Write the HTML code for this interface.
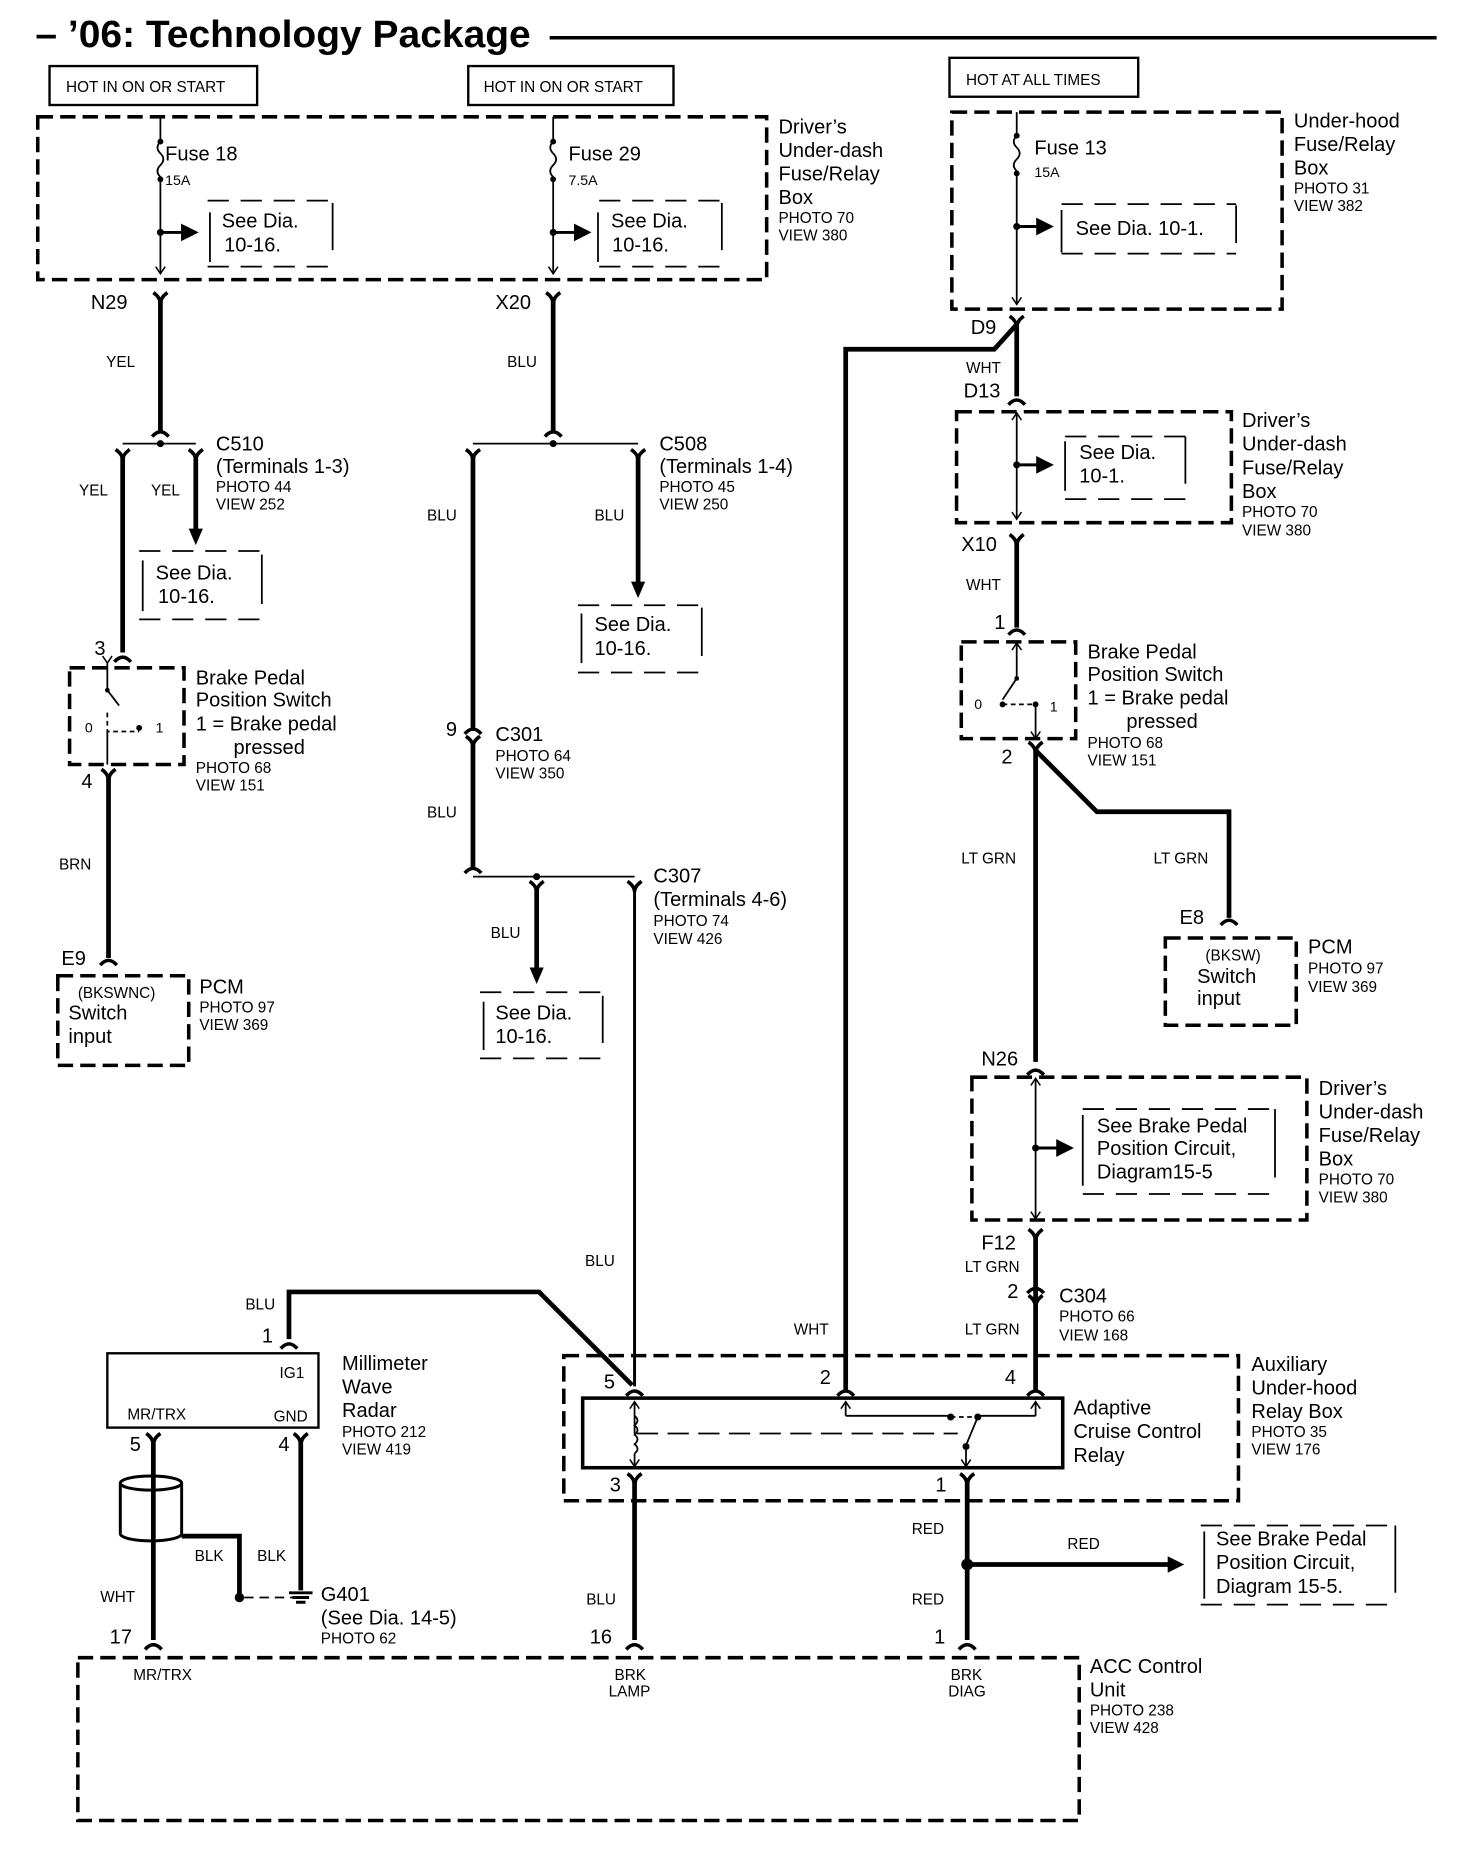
<!DOCTYPE html>
<html><head><meta charset="utf-8"><style>
html,body{margin:0;padding:0;background:#fff}
svg{display:block}
text{font-family:"Liberation Sans",Arial,sans-serif;fill:#000}
.l{font-size:17px}.s{font-size:13px}.xs{font-size:12px}
.tw{stroke:#000;stroke-width:4;fill:none}
.th{stroke:#000;stroke-width:1.5;fill:none}
.db{stroke:#000;stroke-width:3;fill:none;stroke-dasharray:13 6}
.ds{stroke:#000;stroke-width:1.5;fill:none;stroke-dasharray:18 10}
.cp{stroke:#000;stroke-width:3;fill:none}
</style></head><body>
<svg width="1472" height="1850" viewBox="0 0 1248 1568" preserveAspectRatio="none" xmlns="http://www.w3.org/2000/svg">
<defs>
<marker id="ah" markerWidth="6" markerHeight="6" refX="5" refY="3" orient="auto" markerUnits="strokeWidth"><path d="M0,0 L6,3 L0,6 z" fill="#000"/></marker>
<marker id="as" markerWidth="10" markerHeight="10" refX="9" refY="5" orient="auto" markerUnits="userSpaceOnUse"><path d="M3,1 L9,5 L3,9" stroke="#000" stroke-width="1.3" fill="none"/></marker>
</defs>
<!-- title -->
<text x="30" y="40" textLength="420" lengthAdjust="spacingAndGlyphs" style="font-size:32px;font-weight:bold">– ’06: Technology Package</text>
<line x1="466" y1="32" x2="1218" y2="32" stroke="#000" stroke-width="3"/>
<!-- hot boxes -->
<rect x="42" y="56" width="176" height="33" stroke="#000" stroke-width="2" fill="none"/>
<text x="56" y="78" class="s">HOT IN ON OR START</text>
<rect x="397" y="56" width="174" height="33" stroke="#000" stroke-width="2" fill="none"/>
<text x="410" y="78" class="s">HOT IN ON OR START</text>
<rect x="805" y="49" width="160" height="33" stroke="#000" stroke-width="2" fill="none"/>
<text x="819" y="72" class="s">HOT AT ALL TIMES</text>

<!-- box 1 -->
<rect x="32" y="99" width="618" height="138" class="db"/>
<text x="660" y="113" class="l">Driver’s</text><text x="660" y="133" class="l">Under-dash</text><text x="660" y="153" class="l">Fuse/Relay</text><text x="660" y="173" class="l">Box</text>
<text x="660" y="189" class="s">PHOTO 70</text><text x="660" y="204" class="s">VIEW 380</text>
<!-- fuse 18 -->
<path d="M136,99 V120 q-5,5 0,10 q5,5 0,10 q-5,5 0,10 V232" class="th" marker-end="url(#as)"/>
<circle cx="136" cy="120" r="2.5"/><circle cx="136" cy="152" r="2.5"/><circle cx="136" cy="197" r="3"/>
<line x1="136" y1="197" x2="166" y2="197" stroke="#000" stroke-width="2.5" marker-end="url(#ah)"/>
<text x="140" y="136" class="l">Fuse 18</text><text x="140" y="157" class="xs">15A</text>
<line x1="178" y1="180" x2="178" y2="222" class="th"/><line x1="282" y1="172" x2="282" y2="212" class="th"/>
<path d="M176,170 H282 M176,226 H282" class="ds"/>
<text x="188" y="193" class="l">See Dia.</text><text x="190" y="213" class="l">10-16.</text>
<!-- fuse 29 -->
<path d="M469,99 V120 q-5,5 0,10 q5,5 0,10 q-5,5 0,10 V232" class="th" marker-end="url(#as)"/>
<circle cx="469" cy="120" r="2.5"/><circle cx="469" cy="152" r="2.5"/><circle cx="469" cy="197" r="3"/>
<line x1="469" y1="197" x2="499" y2="197" stroke="#000" stroke-width="2.5" marker-end="url(#ah)"/>
<text x="482" y="136" class="l">Fuse 29</text><text x="482" y="157" class="xs">7.5A</text>
<line x1="507" y1="180" x2="507" y2="222" class="th"/><line x1="612" y1="172" x2="612" y2="212" class="th"/>
<path d="M508,170 H612 M508,226 H612" class="ds"/>
<text x="518" y="193" class="l">See Dia.</text><text x="519" y="213" class="l">10-16.</text>

<!-- box 2 -->
<rect x="807" y="95" width="280" height="167" class="db"/>
<text x="1097" y="108" class="l">Under-hood</text><text x="1097" y="128" class="l">Fuse/Relay</text><text x="1097" y="148" class="l">Box</text>
<text x="1097" y="164" class="s">PHOTO 31</text><text x="1097" y="179" class="s">VIEW 382</text>
<path d="M862,95 V115 q-5,5 0,10 q5,5 0,10 q-5,5 0,10 V258" class="th" marker-end="url(#as)"/>
<circle cx="862" cy="115" r="2.5"/><circle cx="862" cy="147" r="2.5"/><circle cx="862" cy="192" r="3"/>
<line x1="862" y1="192" x2="891" y2="192" stroke="#000" stroke-width="2.5" marker-end="url(#ah)"/>
<text x="877" y="131" class="l">Fuse 13</text><text x="877" y="150" class="xs">15A</text>
<line x1="900" y1="178" x2="900" y2="214" class="th"/><line x1="1048" y1="174" x2="1048" y2="206" class="th"/>
<path d="M900,173 H1048 M900,215 H1048" class="ds"/>
<text x="912" y="199" class="l">See Dia. 10-1.</text>

<!-- N29 / YEL -->
<text x="77" y="262" class="l">N29</text>
<path d="M130,248 Q136,252 136,258 Q136,252 142,248" class="cp"/>
<line x1="136" y1="252" x2="136" y2="366" class="tw"/>
<path d="M129,370 Q136,362 143,370" class="cp"/>
<text x="90" y="311" class="s">YEL</text>
<text x="420" y="262" class="l">X20</text>
<path d="M463,248 Q469,252 469,258 Q469,252 475,248" class="cp"/>
<line x1="469" y1="252" x2="469" y2="366" class="tw"/>
<path d="M462,370 Q469,362 476,370" class="cp"/>
<text x="430" y="311" class="s">BLU</text>

<!-- C510 -->
<line x1="104" y1="376" x2="166" y2="376" class="th"/><circle cx="136" cy="376" r="3"/>
<path d="M98,381 Q104,385 104,390 Q104,385 110,381 M160,381 Q166,385 166,390 Q166,385 172,381" class="cp"/>
<text x="183" y="382" class="l">C510</text><text x="183" y="401" class="l">(Terminals 1-3)</text>
<text x="183" y="417" class="s">PHOTO 44</text><text x="183" y="432" class="s">VIEW 252</text>
<line x1="104" y1="385" x2="104" y2="553" class="tw"/>
<line x1="166" y1="385" x2="166" y2="452" class="tw"/><path d="M160,448 L166,462 L172,448 z"/>
<text x="67" y="420" class="s">YEL</text><text x="128" y="420" class="s">YEL</text>
<line x1="121" y1="475" x2="121" y2="518" class="th"/><line x1="222" y1="470" x2="222" y2="512" class="th"/>
<path d="M118,467 H222 M118,525 H222" class="ds"/>
<text x="132" y="491" class="l">See Dia.</text><text x="134" y="511" class="l">10-16.</text>
<!-- switch left -->
<text x="80" y="555" class="l">3</text>
<path d="M97,561 Q104,553 111,561" class="cp"/>
<rect x="59" y="566" width="97" height="82" class="db"/>
<path d="M91,562 V585" class="th" marker-start="url(#as)"/>
<path d="M91,585 L101,598" class="th"/><circle cx="91" cy="585" r="2"/>
<path d="M91,604 V620 H118" class="th" stroke-dasharray="4 3"/><circle cx="118" cy="617" r="2.5"/>
<line x1="91" y1="620" x2="91" y2="648" class="th"/>
<text x="72" y="621" class="xs">0</text><text x="132" y="621" class="xs">1</text>
<text x="166" y="580" class="l">Brake Pedal</text><text x="166" y="599" class="l">Position Switch</text>
<text x="166" y="619" class="l">1 = Brake pedal</text><text x="198" y="639" class="l">pressed</text>
<text x="166" y="655" class="s">PHOTO 68</text><text x="166" y="670" class="s">VIEW 151</text>
<text x="69" y="668" class="l">4</text>
<path d="M86,652 Q92,656 92,662 Q92,656 98,652" class="cp"/>
<line x1="92" y1="656" x2="92" y2="812" class="tw"/>
<path d="M85,818 Q92,810 99,818" class="cp"/>
<text x="50" y="737" class="s">BRN</text>
<text x="52" y="818" class="l">E9</text>
<rect x="49" y="827" width="111" height="76" class="db"/>
<text x="66" y="846" class="s">(BKSWNC)</text><text x="58" y="864" class="l">Switch</text><text x="58" y="884" class="l">input</text>
<text x="169" y="842" class="l">PCM</text><text x="169" y="858" class="s">PHOTO 97</text><text x="169" y="873" class="s">VIEW 369</text>

<!-- C508 -->
<line x1="401" y1="376" x2="541" y2="376" class="th"/><circle cx="469" cy="376" r="3"/>
<path d="M395,381 Q401,385 401,390 Q401,385 407,381 M535,381 Q541,385 541,390 Q541,385 547,381" class="cp"/>
<text x="559" y="382" class="l">C508</text><text x="559" y="401" class="l">(Terminals 1-4)</text>
<text x="559" y="417" class="s">PHOTO 45</text><text x="559" y="432" class="s">VIEW 250</text>
<line x1="401" y1="385" x2="401" y2="617" class="tw"/>
<line x1="541" y1="385" x2="541" y2="497" class="tw"/><path d="M535,493 L541,507 L547,493 z"/>
<text x="362" y="441" class="s">BLU</text><text x="504" y="441" class="s">BLU</text>
<line x1="493" y1="520" x2="493" y2="562" class="th"/><line x1="595" y1="515" x2="595" y2="556" class="th"/>
<path d="M490,513 H595 M490,570 H595" class="ds"/>
<text x="504" y="535" class="l">See Dia.</text><text x="504" y="555" class="l">10-16.</text>
<text x="378" y="624" class="l">9</text>
<path d="M394,622 Q401,614 408,622 M395,624 Q401,628 401,633 Q401,628 407,624" class="cp"/>
<text x="420" y="628" class="l">C301</text><text x="420" y="645" class="s">PHOTO 64</text><text x="420" y="660" class="s">VIEW 350</text>
<line x1="401" y1="628" x2="401" y2="735" class="tw"/>
<path d="M394,740 Q401,732 408,740" class="cp"/>
<text x="362" y="693" class="s">BLU</text>
<line x1="401" y1="743" x2="538" y2="743" class="th"/><circle cx="455" cy="743" r="3"/>
<path d="M449,747 Q455,751 455,756 Q455,751 461,747 M532,747 Q538,751 538,756 Q538,751 544,747" class="cp"/>
<text x="554" y="748" class="l">C307</text><text x="554" y="768" class="l">(Terminals 4-6)</text>
<text x="554" y="785" class="s">PHOTO 74</text><text x="554" y="800" class="s">VIEW 426</text>
<line x1="455" y1="752" x2="455" y2="824" class="tw"/><path d="M449,820 L455,834 L461,820 z"/>
<text x="416" y="795" class="s">BLU</text>
<line x1="410" y1="849" x2="410" y2="890" class="th"/><line x1="511" y1="844" x2="511" y2="884" class="th"/>
<path d="M407,841 H511 M407,897 H511" class="ds"/>
<text x="420" y="864" class="l">See Dia.</text><text x="420" y="884" class="l">10-16.</text>
<line x1="538" y1="752" x2="538" y2="1175" stroke="#000" stroke-width="2.5"/>
<text x="496" y="1073" class="s">BLU</text>

<!-- right column -->
<text x="823" y="283" class="l">D9</text>
<path d="M856,268 Q862,272 862,278 Q862,272 868,268" class="cp"/>
<path d="M862,275 L843,296 H717 V1178" class="tw"/>
<line x1="862" y1="275" x2="862" y2="336" class="tw"/>
<text x="819" y="316" class="s">WHT</text>
<text x="817" y="337" class="l">D13</text>
<path d="M855,343 Q862,335 869,343" class="cp"/>
<rect x="811" y="349" width="233" height="94" class="db"/>
<path d="M862,394 V350" class="th" marker-end="url(#as)"/><path d="M862,394 V440" class="th" marker-end="url(#as)"/>
<circle cx="862" cy="394" r="3"/><line x1="862" y1="394" x2="891" y2="394" stroke="#000" stroke-width="2.5" marker-end="url(#ah)"/>
<line x1="903" y1="374" x2="903" y2="416" class="th"/><line x1="1005" y1="370" x2="1005" y2="410" class="th"/>
<path d="M903,370 H1005 M903,423 H1005" class="ds"/>
<text x="915" y="389" class="l">See Dia.</text><text x="915" y="409" class="l">10-1.</text>
<text x="1053" y="362" class="l">Driver’s</text><text x="1053" y="382" class="l">Under-dash</text><text x="1053" y="402" class="l">Fuse/Relay</text><text x="1053" y="422" class="l">Box</text>
<text x="1053" y="438" class="s">PHOTO 70</text><text x="1053" y="454" class="s">VIEW 380</text>
<text x="815" y="467" class="l">X10</text>
<path d="M856,453 Q862,457 862,463 Q862,457 868,453" class="cp"/>
<line x1="862" y1="457" x2="862" y2="532" class="tw"/>
<path d="M855,538 Q862,530 869,538" class="cp"/>
<text x="819" y="500" class="s">WHT</text>
<text x="843" y="533" class="l">1</text>
<rect x="815" y="544" width="97" height="82" class="db"/>
<path d="M862,575 V545" class="th" marker-end="url(#as)"/>
<path d="M862,575 L850,593" class="th"/><circle cx="862" cy="575" r="2"/>
<path d="M850,597 H878" class="th" stroke-dasharray="4 3"/><circle cx="850" cy="597" r="2.5"/><circle cx="878" cy="597" r="2.5"/>
<path d="M878,597 V626" class="th" marker-end="url(#as)"/>
<text x="826" y="601" class="xs">0</text><text x="890" y="603" class="xs">1</text>
<text x="922" y="558" class="l">Brake Pedal</text><text x="922" y="577" class="l">Position Switch</text>
<text x="922" y="597" class="l">1 = Brake pedal</text><text x="955" y="617" class="l">pressed</text>
<text x="922" y="634" class="s">PHOTO 68</text><text x="922" y="649" class="s">VIEW 151</text>
<text x="849" y="647" class="l">2</text>
<path d="M872,629 Q878,633 878,639 Q878,633 884,629" class="cp"/>
<line x1="878" y1="634" x2="878" y2="900" class="tw"/>
<path d="M878,636 L930,688 H1042 V778" class="tw"/>
<path d="M1035,784 Q1042,776 1049,784" class="cp"/>
<text x="815" y="732" class="s">LT GRN</text><text x="978" y="732" class="s">LT GRN</text>
<text x="1000" y="783" class="l">E8</text>
<rect x="988" y="795" width="111" height="74" class="db"/>
<text x="1022" y="814" class="s">(BKSW)</text><text x="1015" y="833" class="l">Switch</text><text x="1015" y="852" class="l">input</text>
<text x="1109" y="808" class="l">PCM</text><text x="1109" y="825" class="s">PHOTO 97</text><text x="1109" y="841" class="s">VIEW 369</text>
<text x="832" y="903" class="l">N26</text>
<path d="M871,911 Q878,903 885,911" class="cp"/>
<rect x="824" y="913" width="284" height="121" class="db"/>
<path d="M878,973 V914" class="th" marker-end="url(#as)"/><path d="M878,973 V1033" class="th" marker-end="url(#as)"/>
<circle cx="878" cy="973" r="3"/><line x1="878" y1="973" x2="908" y2="973" stroke="#000" stroke-width="2.5" marker-end="url(#ah)"/>
<line x1="918" y1="945" x2="918" y2="1005" class="th"/><line x1="1081" y1="940" x2="1081" y2="998" class="th"/>
<path d="M918,940 H1081 M918,1012 H1081" class="ds"/>
<text x="930" y="960" class="l">See Brake Pedal</text><text x="930" y="979" class="l">Position  Circuit,</text><text x="930" y="999" class="l">Diagram15-5</text>
<text x="1118" y="928" class="l">Driver’s</text><text x="1118" y="948" class="l">Under-dash</text><text x="1118" y="968" class="l">Fuse/Relay</text><text x="1118" y="988" class="l">Box</text>
<text x="1118" y="1004" class="s">PHOTO 70</text><text x="1118" y="1019" class="s">VIEW 380</text>
<text x="832" y="1059" class="l">F12</text>
<path d="M872,1042 Q878,1046 878,1052 Q878,1046 884,1042" class="cp"/>
<line x1="878" y1="1046" x2="878" y2="1178" class="tw"/>
<text x="818" y="1078" class="s">LT GRN</text>
<text x="854" y="1100" class="l">2</text>
<path d="M871,1096 Q878,1088 885,1096 M872,1098 Q878,1102 878,1108 Q878,1102 884,1098" class="cp"/>
<text x="898" y="1104" class="l">C304</text><text x="898" y="1120" class="s">PHOTO 66</text><text x="898" y="1136" class="s">VIEW 168</text>
<text x="818" y="1131" class="s">LT GRN</text>
<text x="673" y="1131" class="s">WHT</text>

<!-- aux relay box -->
<rect x="478" y="1149" width="572" height="123" class="db"/>
<rect x="494" y="1185" width="407" height="59" stroke="#000" stroke-width="3" fill="none"/>
<text x="512" y="1177" class="l">5</text><text x="695" y="1173" class="l">2</text><text x="852" y="1173" class="l">4</text>
<path d="M531,1183 Q538,1175 545,1183 M710,1183 Q717,1175 724,1183 M871,1183 Q878,1175 885,1183" class="cp"/>
<path d="M538,1215 V1188" class="th" marker-end="url(#as)"/>
<path d="M538,1200 q5,4 0,8 q5,4 0,8 q5,4 0,8 q5,4 0,8" class="th"/>
<path d="M538,1232 V1243" class="th" marker-end="url(#as)"/>
<line x1="540" y1="1215" x2="812" y2="1215" class="th" stroke-dasharray="18 8"/>
<path d="M717,1200 V1188" class="th" marker-end="url(#as)"/><path d="M717,1200 H805" class="th"/><circle cx="806" cy="1201" r="3"/>
<path d="M806,1201 H826" class="th" stroke-dasharray="4 3"/>
<path d="M878,1200 V1188" class="th" marker-end="url(#as)"/><path d="M878,1200 H830" class="th"/><circle cx="829" cy="1201" r="3"/>
<path d="M829,1201 L819,1225" class="th"/><circle cx="819" cy="1226" r="3"/>
<path d="M819,1226 V1243" class="th" marker-end="url(#as)"/>
<text x="517" y="1264" class="l">3</text><text x="793" y="1264" class="l">1</text>
<path d="M532,1249 Q538,1253 538,1259 Q538,1253 544,1249 M814,1249 Q820,1253 820,1259 Q820,1253 826,1249" class="cp"/>
<text x="910" y="1199" class="l">Adaptive</text><text x="910" y="1219" class="l">Cruise Control</text><text x="910" y="1239" class="l">Relay</text>
<text x="1061" y="1162" class="l">Auxiliary</text><text x="1061" y="1182" class="l">Under-hood</text><text x="1061" y="1202" class="l">Relay Box</text>
<text x="1061" y="1218" class="s">PHOTO 35</text><text x="1061" y="1233" class="s">VIEW 176</text>

<!-- BLU to pin 5 -->
<path d="M245,1135 V1095 H457 L536,1174" class="tw"/>
<text x="208" y="1110" class="s">BLU</text>

<!-- radar -->
<text x="222" y="1138" class="l">1</text>
<path d="M238,1143 Q245,1135 252,1143" class="cp"/>
<rect x="91" y="1147" width="179" height="63" stroke="#000" stroke-width="2" fill="none"/>
<text x="237" y="1168" class="s">IG1</text><text x="108" y="1203" class="s">MR/TRX</text><text x="232" y="1205" class="s">GND</text>
<text x="290" y="1161" class="l">Millimeter</text><text x="290" y="1181" class="l">Wave</text><text x="290" y="1201" class="l">Radar</text>
<text x="290" y="1218" class="s">PHOTO 212</text><text x="290" y="1233" class="s">VIEW 419</text>
<text x="110" y="1230" class="l">5</text><text x="236" y="1230" class="l">4</text>
<path d="M124,1215 Q130,1219 130,1225 Q130,1219 136,1215 M249,1215 Q255,1219 255,1225 Q255,1219 261,1215" class="cp"/>
<line x1="130" y1="1219" x2="130" y2="1390" class="tw"/>
<ellipse cx="128" cy="1257" rx="26" ry="6" stroke="#000" stroke-width="2.5" fill="none"/>
<path d="M102,1257 V1300 M154,1257 V1300" stroke="#000" stroke-width="2.5"/>
<path d="M102,1300 A26,6 0 0 0 154,1300" stroke="#000" stroke-width="2.5" fill="none"/>
<path d="M154,1302 H203 V1354" class="tw"/><circle cx="203" cy="1354" r="4"/>
<line x1="207" y1="1354" x2="248" y2="1354" class="th" stroke-dasharray="8 5"/>
<line x1="255" y1="1219" x2="255" y2="1348" class="tw"/>
<path d="M245,1350 H265 M248,1354 H262 M251,1358 H259" stroke="#000" stroke-width="2.5"/>
<text x="165" y="1323" class="s">BLK</text><text x="218" y="1323" class="s">BLK</text>
<text x="272" y="1357" class="l">G401</text><text x="272" y="1377" class="l">(See Dia. 14-5)</text><text x="272" y="1393" class="s">PHOTO 62</text>
<text x="85" y="1358" class="s">WHT</text>
<text x="93" y="1393" class="l">17</text>
<path d="M123,1398 Q130,1390 137,1398" class="cp"/>

<!-- below relay -->
<line x1="538" y1="1253" x2="538" y2="1390" class="tw"/>
<path d="M531,1398 Q538,1390 545,1398" class="cp"/>
<text x="497" y="1360" class="s">BLU</text><text x="500" y="1393" class="l">16</text>
<line x1="820" y1="1253" x2="820" y2="1390" class="tw"/>
<path d="M813,1398 Q820,1390 827,1398" class="cp"/>
<text x="773" y="1300" class="s">RED</text><text x="773" y="1360" class="s">RED</text><text x="792" y="1393" class="l">1</text>
<circle cx="820" cy="1326" r="5"/>
<line x1="820" y1="1326" x2="992" y2="1326" class="tw"/><path d="M990,1319 L1004,1326 L990,1333 z"/>
<text x="905" y="1313" class="s">RED</text>
<line x1="1021" y1="1298" x2="1021" y2="1355" class="th"/><line x1="1183" y1="1293" x2="1183" y2="1350" class="th"/>
<path d="M1018,1293 H1183 M1018,1360 H1183" class="ds"/>
<text x="1031" y="1310" class="l">See Brake Pedal</text><text x="1031" y="1330" class="l">Position  Circuit,</text><text x="1031" y="1350" class="l">Diagram 15-5.</text>

<!-- ACC unit -->
<rect x="66" y="1405" width="849" height="138" class="db"/>
<text x="113" y="1424" class="s">MR/TRX</text>
<text x="521" y="1424" class="s">BRK</text><text x="516" y="1438" class="s">LAMP</text>
<text x="806" y="1424" class="s">BRK</text><text x="804" y="1438" class="s">DIAG</text>
<text x="924" y="1418" class="l">ACC Control</text><text x="924" y="1438" class="l">Unit</text>
<text x="924" y="1454" class="s">PHOTO 238</text><text x="924" y="1469" class="s">VIEW 428</text>
</svg>
</body></html>
